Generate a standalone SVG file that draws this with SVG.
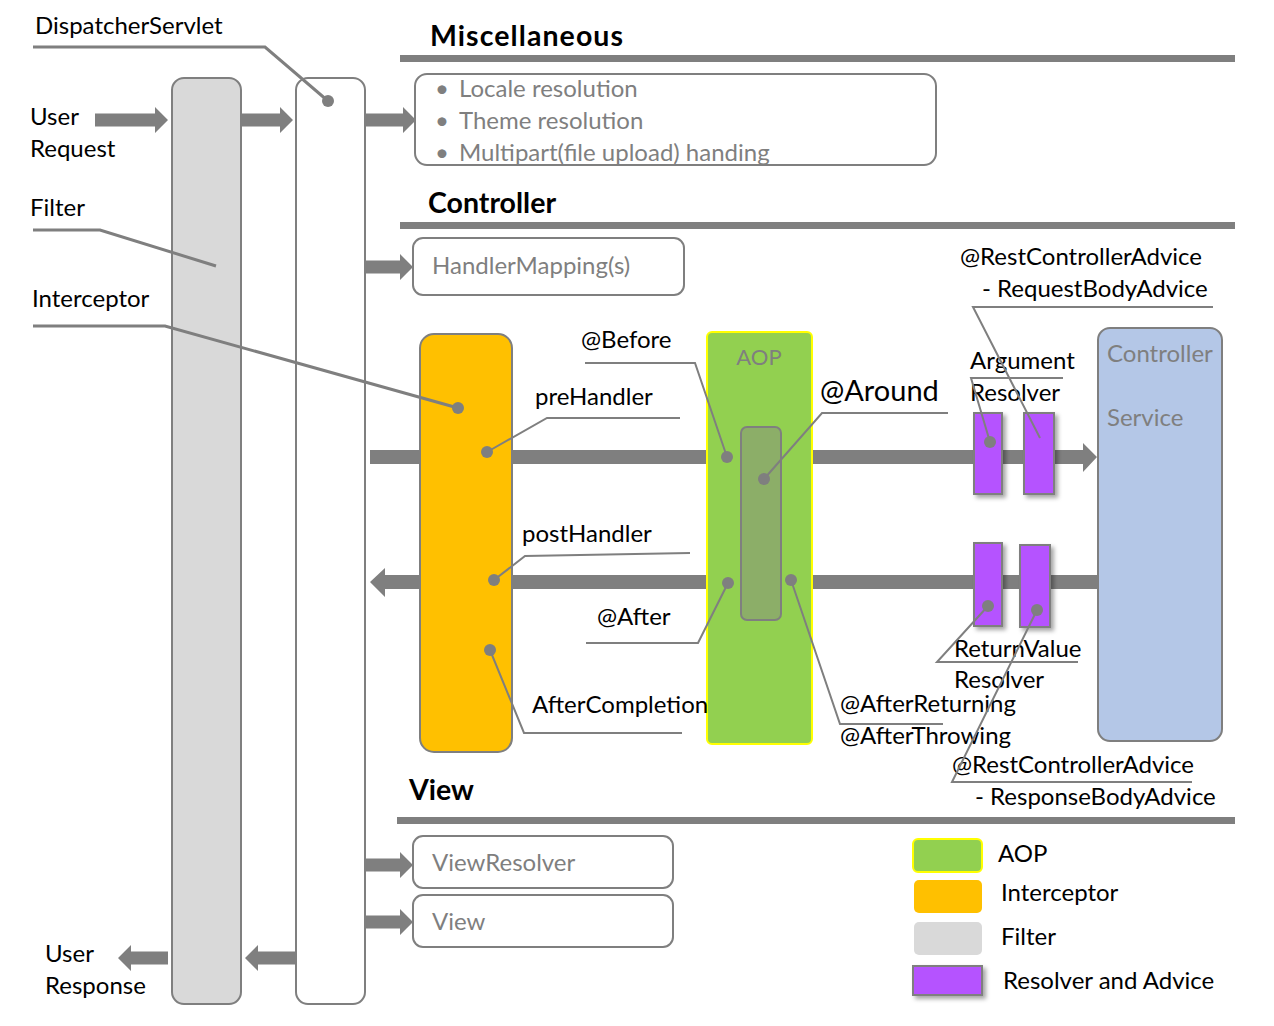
<svg xmlns="http://www.w3.org/2000/svg" width="1274" height="1026" viewBox="0 0 1274 1026">
<style>
text{font-family:Lato,"Liberation Sans",sans-serif;fill:#000}
.lbl{font-size:24px}
.hd{font-size:28.5px;font-weight:bold}
.gt{font-size:24px;fill:#7f7f7f}
.box{fill:#fff;stroke:#7f7f7f;stroke-width:2}
.arr{fill:#7f7f7f}
.ld{fill:none;stroke:#7f7f7f;stroke-width:2}
.ldk{fill:none;stroke:#7f7f7f;stroke-width:3}
.dot{fill:#7f7f7f}
.pur{fill:#b553ff;stroke:#7f7f7f;stroke-width:2;filter:url(#sh)}
.bar{fill:#7f7f7f}
</style>
<defs>
<filter id="sh" x="-30%" y="-30%" width="170%" height="160%">
<feDropShadow dx="3" dy="3" stdDeviation="2" flood-color="#000" flood-opacity="0.35"/>
</filter>
</defs>
<rect width="1274" height="1026" fill="#fff"/>

<!-- section headers -->
<g id="hdr-misc">
<text class="hd" x="430" y="46" textLength="193" lengthAdjust="spacing">Miscellaneous</text>
<rect class="bar" x="400" y="55" width="835" height="7"/>
</g>
<g id="hdr-controller">
<text class="hd" x="428" y="213">Controller</text>
<rect class="bar" x="400" y="222" width="835" height="7"/>
</g>
<g id="hdr-view">
<text class="hd" x="409" y="800">View</text>
<rect class="bar" x="397" y="817" width="838" height="7"/>
</g>

<!-- flow bars and block arrows (behind boxes) -->
<g id="connectors">
<polygon class="arr" points="370,450 1083,450 1083,443 1097,457 1083,472 1083,464 370,464"/>
<polygon class="arr" points="1100,575 385,575 385,568 370,582 385,597 385,589 1100,589"/>
<polygon class="arr" points="95,113.5 155,113.5 155,107 168,120 155,133 155,126.5 95,126.5"/>
<polygon class="arr" points="238,113.5 280,113.5 280,107 293,120 280,133 280,126.5 238,126.5"/>
<polygon class="arr" points="362,113.5 403,113.5 403,107 416,120 403,133 403,126.5 362,126.5"/>
<polygon class="arr" points="365,260.5 400,260.5 400,254 413,267 400,280 400,273.5 365,273.5"/>
<polygon class="arr" points="365,858.5 400,858.5 400,852 413,865 400,878 400,871.5 365,871.5"/>
<polygon class="arr" points="365,915.5 400,915.5 400,909 413,922 400,935 400,928.5 365,928.5"/>
<polygon class="arr" points="296,951.5 258,951.5 258,945 245,958 258,971 258,964.5 296,964.5"/>
<polygon class="arr" points="168,951.5 131,951.5 131,945 118,958 131,971 131,964.5 168,964.5"/>
</g>

<g id="filter">
<rect x="172" y="78" width="69" height="926" rx="12" fill="#d9d9d9" stroke="#7f7f7f" stroke-width="2"/>
</g>
<g id="dispatcher">
<rect class="box" x="296" y="78" width="69" height="926" rx="12"/>
</g>

<g id="misc-box">
<rect class="box" x="415" y="74" width="521" height="91" rx="12"/>
<text class="gt" x="435" y="97">•</text>
<text class="gt" x="459" y="97">Locale resolution</text>
<text class="gt" x="435" y="129">•</text>
<text class="gt" x="459" y="129">Theme resolution</text>
<text class="gt" x="435" y="161">•</text>
<text class="gt" x="459" y="161">Multipart(file upload) handing</text>
</g>

<g id="handler-mapping">
<rect class="box" x="413" y="238" width="271" height="57" rx="10"/>
<text class="gt" x="432" y="274">HandlerMapping(s)</text>
</g>

<g id="view-resolver">
<rect class="box" x="413" y="836" width="260" height="52" rx="10"/>
<text class="gt" x="432" y="871">ViewResolver</text>
</g>
<g id="view">
<rect class="box" x="413" y="895" width="260" height="52" rx="10"/>
<text class="gt" x="432" y="930">View</text>
</g>

<g id="interceptor">
<rect x="420" y="334" width="92" height="418" rx="14" fill="#ffc000" stroke="#7f7f7f" stroke-width="2"/>
</g>

<g id="aop">
<rect x="707" y="332" width="105" height="412" rx="5" fill="#92d050" stroke="#ffff00" stroke-width="2"/>
<text x="759" y="365" text-anchor="middle" style="font-size:22px;fill:#7f7f7f">AOP</text>
<rect x="741" y="427" width="40" height="193" rx="6" fill="#8cae68" stroke="#7f7f7f" stroke-width="2"/>
</g>

<g id="arg-resolvers">
<rect class="pur" x="974" y="413" width="28" height="81"/>
<rect class="pur" x="1024" y="413" width="30" height="81"/>
</g>
<g id="return-resolvers">
<rect class="pur" x="974" y="543" width="28" height="83"/>
<rect class="pur" x="1020" y="545" width="30" height="82"/>
</g>

<g id="controller-service">
<rect x="1098" y="328" width="124" height="413" rx="12" fill="#b4c7e7" stroke="#7f7f7f" stroke-width="2"/>
<text class="gt" x="1107" y="362">Controller</text>
<text class="gt" x="1107" y="426">Service</text>
</g>

<!-- labels -->
<g id="labels">
<text class="lbl" x="35" y="34">DispatcherServlet</text>
<text class="lbl" x="30" y="125">User</text>
<text class="lbl" x="30" y="157">Request</text>
<text class="lbl" x="30" y="216">Filter</text>
<text class="lbl" x="32" y="307">Interceptor</text>
<text class="lbl" x="45" y="962">User</text>
<text class="lbl" x="45" y="994">Response</text>
<text class="lbl" x="581" y="348">@Before</text>
<text class="lbl" x="535" y="405">preHandler</text>
<text class="lbl" x="522" y="542">postHandler</text>
<text class="lbl" x="597" y="625">@After</text>
<text class="lbl" x="532" y="713">AfterCompletion</text>
<text class="lbl" x="820" y="401" style="font-size:29px">@Around</text>
<text class="lbl" x="840" y="712">@AfterReturning</text>
<text class="lbl" x="840" y="744">@AfterThrowing</text>
<text class="lbl" x="960" y="265">@RestControllerAdvice</text>
<text class="lbl" x="982" y="297">- RequestBodyAdvice</text>
<text class="lbl" x="970" y="369">Argument</text>
<text class="lbl" x="970" y="401">Resolver</text>
<text class="lbl" x="954" y="657">ReturnValue</text>
<text class="lbl" x="954" y="688">Resolver</text>
<text class="lbl" x="952" y="773">@RestControllerAdvice</text>
<text class="lbl" x="975" y="805">- ResponseBodyAdvice</text>
</g>

<!-- leader lines -->
<g id="leaders">
<polyline class="ldk" points="33,47 265,47 328,101"/>
<circle class="dot" cx="328" cy="101" r="6"/>
<polyline class="ldk" points="33,230 100,230 216,266"/>
<polyline class="ldk" points="33,326 165,326 458,408"/>
<circle class="dot" cx="458" cy="408" r="6"/>
<polyline class="ld" points="680,418 547,418 487,452"/>
<circle class="dot" cx="487" cy="452" r="6"/>
<polyline class="ld" points="690,553 525,556 494,580"/>
<circle class="dot" cx="494" cy="580" r="6"/>
<polyline class="ld" points="682,733 524,733 490,650"/>
<circle class="dot" cx="490" cy="650" r="6"/>
<polyline class="ld" points="585,363 695,363 727,457"/>
<circle class="dot" cx="727" cy="457" r="6"/>
<polyline class="ld" points="586,643 698,643 728,583"/>
<circle class="dot" cx="728" cy="583" r="6"/>
<polyline class="ld" points="948,413 822,413 764,479"/>
<circle class="dot" cx="764" cy="479" r="6"/>
<polyline class="ld" points="791,580 840,724 943,724"/>
<circle class="dot" cx="791" cy="580" r="6"/>
<polyline class="ld" points="1063,378 971,378 990,442"/>
<circle class="dot" cx="990" cy="442" r="6"/>
<polyline class="ld" points="1213,307 973,307 1040,438"/>
<polyline class="ld" points="988,606 937,662 1078,662"/>
<circle class="dot" cx="988" cy="606" r="6"/>
<polyline class="ld" points="1037,610 952,782 1192,782"/>
<circle class="dot" cx="1037" cy="610" r="6"/>
</g>

<!-- legend -->
<g id="legend">
<rect x="913" y="839" width="69" height="33" rx="5" fill="#92d050" stroke="#ffff00" stroke-width="2"/>
<text class="lbl" x="998" y="862">AOP</text>
<rect x="914" y="880" width="68" height="33" rx="5" fill="#ffc000"/>
<text class="lbl" x="1001" y="901">Interceptor</text>
<rect x="914" y="922" width="68" height="33" rx="5" fill="#d9d9d9"/>
<text class="lbl" x="1001" y="945">Filter</text>
<rect class="pur" x="913" y="966" width="69" height="29"/>
<text class="lbl" x="1003" y="989">Resolver and Advice</text>
</g>
</svg>
